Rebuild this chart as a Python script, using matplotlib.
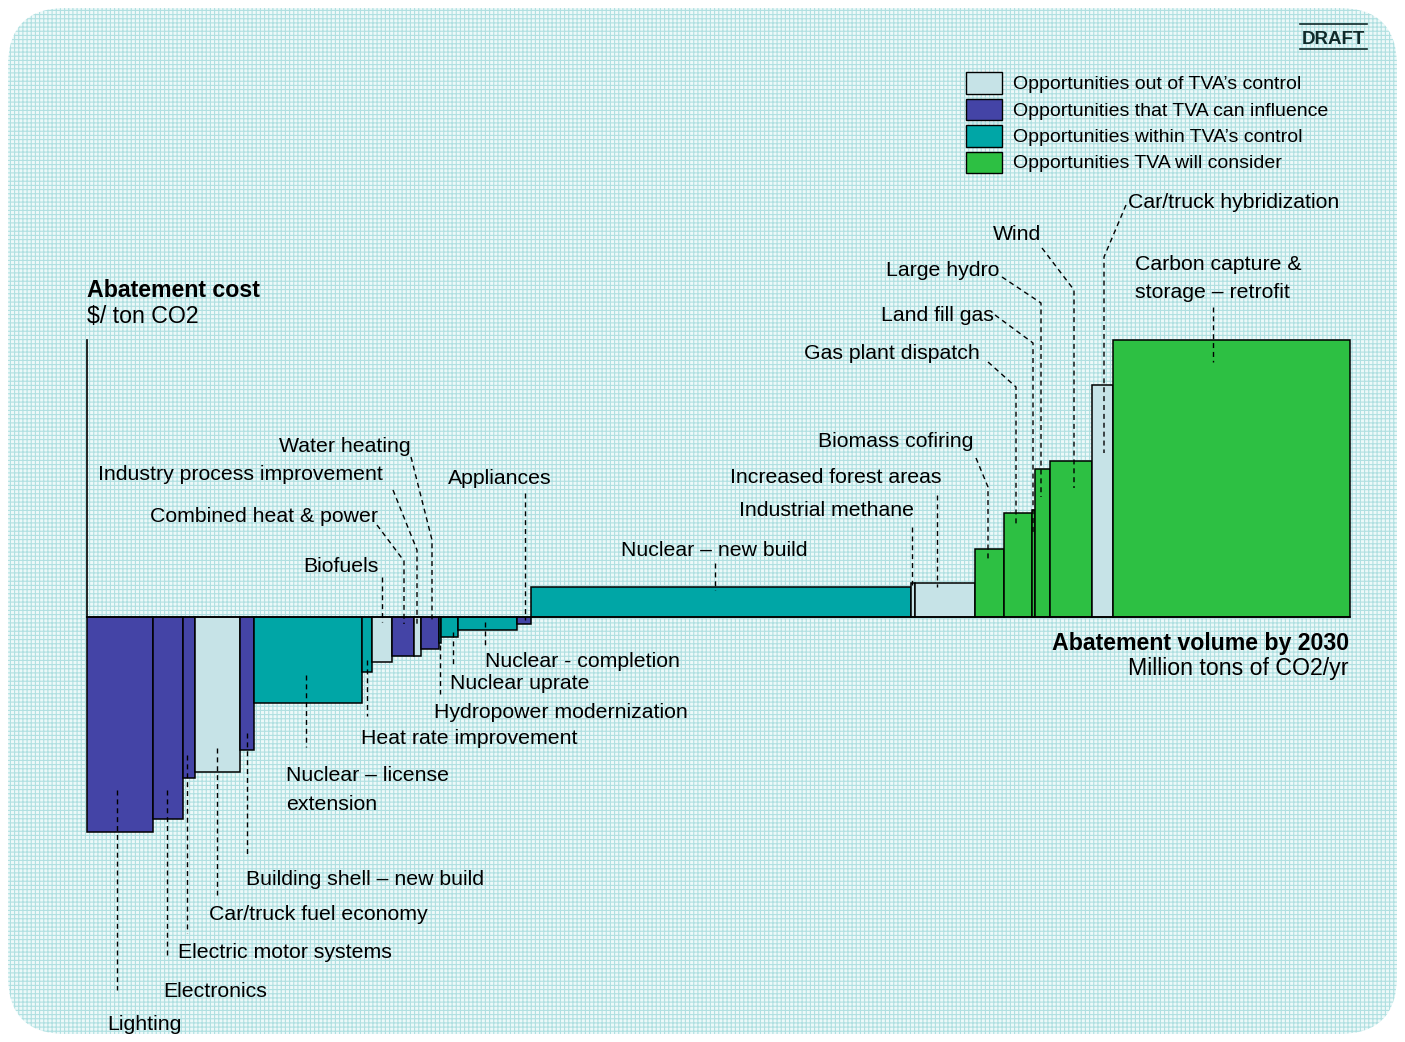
"""Marginal abatement cost curve (TVA, 2030)."""

import numpy as np
import matplotlib
matplotlib.use("Agg")
import matplotlib.pyplot as plt
from matplotlib.patches import FancyBboxPatch, Rectangle

plt.rcParams["font.family"] = ["Liberation Sans", "DejaVu Sans"]
plt.rcParams["hatch.linewidth"] = 0.8

# --- data (arbitrary but consistent units) ---
names = [
    "Lighting", "Electronics", "Electric motor systems", "Car/truck fuel economy",
    "Building shell – new build", "Nuclear – license extension", "Heat rate improvement",
    "Biofuels", "Combined heat & power", "Industry process improvement", "Water heating",
    "Hydropower modernization", "Nuclear uprate", "Nuclear - completion", "Appliances",
    "Nuclear – new build", "Industrial methane", "Increased forest areas",
    "Biomass cofiring", "Gas plant dispatch", "Land fill gas", "Large hydro", "Wind",
    "Car/truck hybridization", "Carbon capture & storage – retrofit",
]
# abatement volume, million tons CO2/yr
widths = [6.6, 3.0, 1.2, 4.5, 1.4, 10.8, 1.0, 2.0, 2.2, 0.7, 1.8, 0.2, 1.7, 5.9, 1.4,
          38.0, 0.4, 6.0, 2.9, 2.8, 0.3, 1.5, 4.2, 2.1, 23.7]
# abatement cost, $/ton CO2
costs = [-77.6, -72.9, -58.1, -56.0, -48.0, -31.0, -19.9, -16.2, -14.1, -14.1, -11.6,
         -9.4, -7.2, -4.7, -2.5, 10.8, 12.3, 12.3, 24.5, 37.5, 38.6, 53.4, 56.3, 83.8, 100.0]
# 0 = out of control, 1 = can influence, 2 = within control, 3 = will consider
groups = [1, 1, 1, 0, 1, 2, 2, 0, 1, 0, 1, 2, 2, 2, 1, 2, 0, 0, 3, 3, 3, 3, 3, 0, 3]

group_labels = [
    "Opportunities out of TVA\u2019s control",
    "Opportunities that TVA can influence",
    "Opportunities within TVA\u2019s control",
    "Opportunities TVA will consider",
]
group_colors = ["#c6e3e7", "#4444a6", "#00a6a6", "#2dc043"]

W, H = 1405, 1042
fig = plt.figure(figsize=(W / 100, H / 100), dpi=100)

# background panel (pixel coordinates)
bg = fig.add_axes([0, 0, 1, 1], zorder=0)
bg.set_xlim(0, W)
bg.set_ylim(H, 0)
bg.axis("off")
r = 58
bg.add_patch(FancyBboxPatch((8 + r, 8 + r), W - 16 - 2 * r, H - 16 - 2 * r,
                            boxstyle=f"round,pad={r}", facecolor="#edf9f9",
                            edgecolor="#b0e0e1", linewidth=0, hatch="++++"))

# the curve itself
ax = fig.add_axes([0, 0, 1, 1], zorder=1)
ax.patch.set_alpha(0)
ax.set_xlim(-87 / 10, (W - 87) / 10)
ax.set_ylim(-(H - 617) / 2.77, 617 / 2.77)
ax.axis("off")

lefts = np.concatenate([[0], np.cumsum(widths)[:-1]])
ax.bar(lefts, costs, width=widths, align="edge",
       color=[group_colors[g] for g in groups], edgecolor="black", linewidth=1.1)
ax.plot([0, sum(widths)], [0, 0], color="black", lw=1.2, zorder=3)
ax.plot([0, 0], [0, max(costs)], color="black", lw=1.2, zorder=3)

# labels, leaders, legend (pixel coordinates)
ov = fig.add_axes([0, 0, 1, 1], zorder=2)
ov.patch.set_alpha(0)
ov.set_xlim(0, W)
ov.set_ylim(H, 0)
ov.axis("off")

fs = 15.3
labels = [
    ("Lighting", 107, 1030), ("Electronics", 163, 997), ("Electric motor systems", 178, 958),
    ("Car/truck fuel economy", 209, 920), ("Building shell \u2013 new build", 246, 885),
    ("Nuclear \u2013 license", 286, 781), ("extension", 286, 810),
    ("Heat rate improvement", 361, 744), ("Hydropower modernization", 434, 718),
    ("Nuclear uprate", 450, 689), ("Nuclear - completion", 485, 667),
    ("Water heating", 279, 452), ("Industry process improvement", 98, 480),
    ("Combined heat & power", 150, 522), ("Biofuels", 303, 572), ("Appliances", 448, 484),
    ("Nuclear \u2013 new build", 621, 556), ("Industrial methane", 739, 516),
    ("Increased forest areas", 730, 483), ("Biomass cofiring", 818, 447),
    ("Gas plant dispatch", 804, 359), ("Land fill gas", 881, 321), ("Large hydro", 886, 276),
    ("Wind", 993, 240), ("Car/truck hybridization", 1128, 208),
    ("Carbon capture &", 1135, 270), ("storage \u2013 retrofit", 1135, 298),
]
for txt, x, y in labels:
    ov.text(x, y, txt, fontsize=fs, va="baseline", ha="left", color="black")

leaders = [
    [(117, 790), (117, 990)], [(167, 790), (167, 958)], [(187, 755), (187, 933)],
    [(217, 748), (217, 895)], [(247, 733), (247, 857)], [(306, 675), (306, 747)],
    [(367, 660), (367, 716)], [(440, 645), (440, 694)], [(453, 632), (453, 667)],
    [(485, 622), (485, 647)], [(525, 493), (525, 620)], [(382, 577), (382, 622)],
    [(377, 525), (404, 561), (404, 624)], [(393, 490), (417, 550), (417, 625)],
    [(411, 457), (432, 540), (432, 620)], [(715, 563), (715, 590)],
    [(912, 527), (912, 585)], [(937, 495), (937, 587)],
    [(976, 458), (988, 487), (988, 559)], [(988, 362), (1016, 387), (1016, 525)],
    [(995, 315), (1033, 343), (1033, 535)], [(1002, 277), (1041, 303), (1041, 497)],
    [(1042, 248), (1074, 290), (1074, 488)], [(1126, 205), (1104, 257), (1104, 453)],
    [(1213, 307), (1213, 362)],
]
for pts in leaders:
    xs, ys = zip(*pts)
    ov.plot(xs, ys, color="black", lw=1.0, dashes=(3.6, 2.8))

# axis titles
ts = 16.7
ov.text(87, 297, "Abatement cost", fontsize=ts, weight="bold", va="baseline")
ov.text(87, 323, "$/ ton CO2", fontsize=ts, va="baseline")
ov.text(1349, 650, "Abatement volume by 2030", fontsize=ts, weight="bold",
        va="baseline", ha="right")
ov.text(1349, 675, "Million tons of CO2/yr", fontsize=ts, va="baseline", ha="right")

# legend
for i, (lab, col) in enumerate(zip(group_labels, group_colors)):
    y0 = 72 + i * 26.5
    ov.add_patch(Rectangle((966, y0), 36, 21.5, facecolor=col, edgecolor="black", lw=1.0))
    ov.text(1013, y0 + 17, lab, fontsize=14, va="baseline", color="black")

# draft stamp
ov.text(1333.5, 44, "DRAFT", fontsize=13.5, weight="bold", ha="center", va="baseline",
        color="#0f2a2a")
ov.plot([1300, 1367], [24, 24], color="#0f2a2a", lw=1.2)
ov.plot([1300, 1367], [49, 49], color="#0f2a2a", lw=1.2)

fig.savefig("out.png", dpi=100)
